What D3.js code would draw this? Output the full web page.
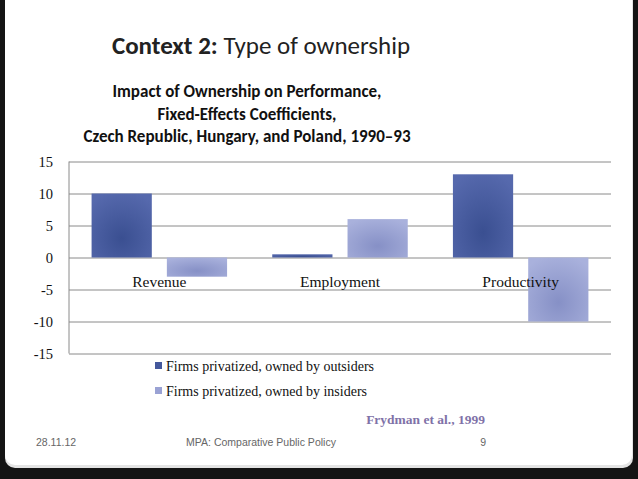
<!DOCTYPE html>
<html><head><meta charset="utf-8">
<script src="https://cdn.jsdelivr.net/npm/d3@7"></script>
<style>
html,body{margin:0;padding:0;background:#1a1a1a;overflow:hidden;}
svg{display:block;}
</style></head>
<body>
<svg id="c" width="638" height="479"></svg>
<script>
const categories = ["Revenue", "Employment", "Productivity"];
const seriesNames = ["Firms privatized, owned by outsiders", "Firms privatized, owned by insiders"];
const outsiders = [10, 0.5, 13];
const insiders = [-3, 6, -10];
const yTicks = [15, 10, 5, 0, -5, -10, -15];

const svg = d3.select("#c");
const W = 638, H = 479;
const defs = svg.append("defs");

// slide background
svg.append("rect").attr("width",W).attr("height",H).attr("fill","#141414");
svg.append("rect").attr("x",5).attr("y",-20).attr("width",628).attr("height",488).attr("rx",10)
  .attr("fill","#e4e4e4");
svg.append("rect").attr("x",5).attr("y",-20).attr("width",627).attr("height",485).attr("rx",10)
  .attr("fill","#ffffff");

// gradients
function grad(id, inner, outer){
  const g = defs.append("radialGradient").attr("id",id).attr("cx","50%").attr("cy","70%").attr("r","75%");
  g.append("stop").attr("offset","0%").attr("stop-color",inner);
  g.append("stop").attr("offset","100%").attr("stop-color",outer);
}
grad("gOut","#3a4f91","#5669ad");
grad("gIn","#8690c6","#a9b1dc");

const plot = {l:69, r:611, t:161.5, b:353.5};
const y = d3.scaleLinear().domain([-15,15]).range([plot.b, plot.t]);
const x0 = d3.scaleBand().domain(categories).range([plot.l, plot.r]).padding(0);
const x1 = d3.scaleBand().domain([0,1]).range([0, x0.bandwidth()]).paddingInner(0.2).paddingOuter(0.3);

const serif = "'Liberation Serif', serif";

// gridlines
const yAxis = d3.axisLeft(y).tickValues(yTicks).tickSize(-(plot.r-plot.l)).tickFormat(d=>d);
const ga = svg.append("g").attr("transform",`translate(${plot.l},0)`).call(yAxis);
ga.select(".domain").attr("stroke","#8a8a8a").attr("d",`M0,${plot.t}V${plot.b}`);
ga.selectAll(".tick line").attr("stroke","#8a8a8a").attr("stroke-width",1);
ga.selectAll(".tick text").attr("x",-16).attr("font-family",serif).attr("font-size",14.5).attr("fill","#111");

// bars
const data = [];
categories.forEach((c,i)=>{
  data.push({c, s:0, v:outsiders[i]});
  data.push({c, s:1, v:insiders[i]});
});
svg.append("g").selectAll("rect").data(data).join("rect")
  .attr("x", d=>x0(d.c)+x1(d.s))
  .attr("width", x1.bandwidth())
  .attr("y", d=>y(Math.max(0,d.v)))
  .attr("height", d=>Math.abs(y(d.v)-y(0)))
  .attr("fill", d=>d.s===0?"url(#gOut)":"url(#gIn)");

// category labels
svg.append("g").selectAll("text").data(categories).join("text")
  .attr("x", d=>x0(d)+x0.bandwidth()/2)
  .attr("y", 287)
  .attr("text-anchor","middle")
  .attr("font-family",serif).attr("font-size",15.5).attr("fill","#111")
  .text(d=>d);

// legend
const lg = svg.append("g");
seriesNames.forEach((n,i)=>{
  const yy = 366 + i*25;
  lg.append("rect").attr("x",155).attr("y",yy-4).attr("width",7).attr("height",7)
    .attr("fill", i===0?"#44589c":"#9aa2d4");
  lg.append("text").attr("x",166).attr("y",yy+5)
    .attr("font-family",serif).attr("font-size",14).attr("fill","#111").text(n);
});

// titles
const sans = "Carlito, 'Liberation Sans Narrow', Lato, sans-serif";
const t = svg.append("text").attr("x",261).attr("y",54).attr("text-anchor","middle")
  .attr("font-family",sans).attr("font-size",25).attr("fill","#222");
t.append("tspan").attr("font-weight","bold").text("Context 2:");
t.append("tspan").text(" Type of ownership");

const sub = ["Impact of Ownership on Performance,","Fixed-Effects Coefficients,","Czech Republic, Hungary, and Poland, 1990–93"];
svg.append("g").selectAll("text").data(sub).join("text")
  .attr("x",247).attr("y",(d,i)=>97+i*22.5).attr("text-anchor","middle")
  .attr("font-family",sans).attr("font-weight","bold")
  .attr("font-size",17).attr("fill","#111").text(d=>d);

svg.append("text").attr("x",485).attr("y",424).attr("text-anchor","end")
  .attr("font-family",serif).attr("font-weight","bold")
  .attr("font-size",13.5).attr("fill","#7f72a8").text("Frydman et al., 1999");

// footer
const ff = "'Liberation Sans', sans-serif";
svg.append("text").attr("x",36).attr("y",446).attr("font-family",ff).attr("font-size",10.5).attr("fill","#666").text("28.11.12");
svg.append("text").attr("x",261).attr("y",446).attr("text-anchor","middle").attr("font-family",ff).attr("font-size",10.5).attr("fill","#666").text("MPA: Comparative Public Policy");
svg.append("text").attr("x",486).attr("y",446).attr("text-anchor","end").attr("font-family",ff).attr("font-size",10.5).attr("fill","#666").text("9");
</script>
</body></html>
